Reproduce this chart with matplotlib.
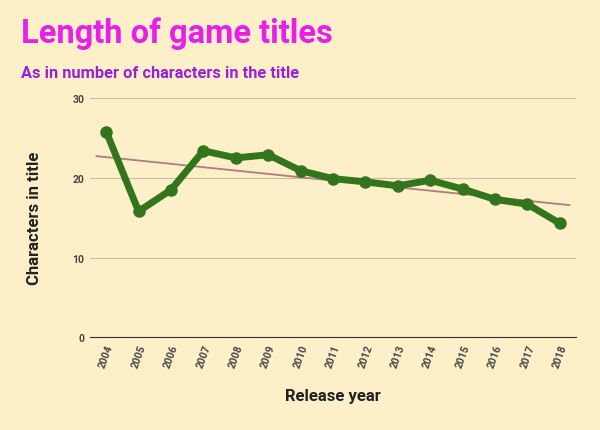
import numpy as np
import matplotlib.pyplot as plt

plt.rcParams['font.family'] = 'Roboto'

years = [str(y) for y in range(2004, 2019)]
lengths = [25.8, 15.8, 18.5, 23.4, 22.5, 22.9, 20.9, 19.9, 19.5, 19.0, 19.7, 18.6, 17.3, 16.7, 14.3]
yticks = [0, 10, 20, 30]

BG = '#fdf0c9'
fig = plt.figure(figsize=(6.0, 4.31), dpi=100, facecolor=BG)
ax = fig.add_axes([0.15, 0.215, 0.81, 0.555], facecolor=BG)

x = np.arange(len(years))
# linear trendline
k, b = np.polyfit(x, lengths, 1)
ax.plot([-0.3, len(x) - 0.7], [k * -0.3 + b, k * (len(x) - 0.7) + b],
        color='#b07a80', lw=1.3, zorder=2)
ax.plot(x, lengths, color='#33751d', lw=5, marker='o', ms=8, zorder=3)

ax.set_xlim(-0.5, len(x) - 0.5)
ax.set_ylim(0, 30)
ax.set_yticks(yticks)
ax.set_xticks(x)
ax.set_xticklabels(years, rotation=70, fontsize=7.5, color='#444444', fontweight='bold')
for t in ax.get_yticklabels():
    t.set_fontsize(7.5); t.set_color('#444444'); t.set_fontweight('bold')
ax.grid(axis='y', color='#c9bfa3', lw=0.8)
ax.set_axisbelow(True)
for s in ['top', 'right', 'left']:
    ax.spines[s].set_visible(False)
ax.spines['bottom'].set_color('#333333')
ax.tick_params(length=0, pad=4)
ax.set_xlabel('Release year', fontsize=12, fontweight='bold', color='#222222', labelpad=14)
ax.set_ylabel('Characters in title', fontsize=12, fontweight='bold', color='#222222', labelpad=22)

fig.text(0.035, 0.9, 'Length of game titles', fontsize=23.5, fontweight='bold', color='#e81fe6')
fig.text(0.035, 0.82, 'As in number of characters in the title', fontsize=11.8, fontweight='bold', color='#9a1fd6')

fig.savefig('out.png', dpi=100, facecolor=BG)
